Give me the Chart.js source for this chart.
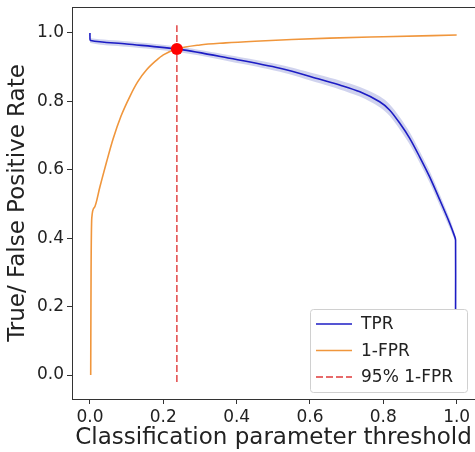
<!DOCTYPE html>
<html lang="en">
<head>
  <meta charset="UTF-8">
  <title>TPR / 1-FPR vs threshold</title>
  <script src="https://cdn.jsdelivr.net/npm/chart.js"></script>
  <style>
    body { margin: 0; background: #fff; }
    .wrap { width: 475px; height: 452px; }
  </style>
</head>
<body>
  <div class="wrap"><canvas id="rateChart"></canvas></div>

  <script>
    // TPR curve (threshold -> rate)
    const tprX  = [0, 0, 0.002, 0.1, 0.245, 0.381, 0.518, 0.627, 0.681, 0.736, 0.79, 0.817, 0.845, 0.872, 0.899, 0.926, 0.954, 0.981, 0.995, 0.997, 0.997];
    const tprY  = [1.0, 0.99, 0.978, 0.968, 0.952, 0.926, 0.897, 0.865, 0.848, 0.828, 0.799, 0.775, 0.736, 0.692, 0.638, 0.58, 0.512, 0.444, 0.404, 0.395, 0.19];
    // shaded band around TPR
    const tprHi = [1.0, 0.99, 0.985, 0.976, 0.96, 0.935, 0.907, 0.877, 0.861, 0.842, 0.815, 0.792, 0.754, 0.71, 0.655, 0.597, 0.528, 0.458, 0.414, 0.402, 0.19];
    const tprLo = [1.0, 0.99, 0.971, 0.96, 0.944, 0.917, 0.887, 0.853, 0.835, 0.814, 0.783, 0.758, 0.718, 0.674, 0.621, 0.563, 0.496, 0.43, 0.394, 0.388, 0.19];

    // 1-FPR curve
    const fprX = [0.002, 0.003, 0.005, 0.012, 0.027, 0.045, 0.063, 0.085, 0.109, 0.13, 0.155, 0.18, 0.2, 0.237, 0.3, 0.37, 0.45, 0.55, 0.654, 0.8, 1.0];
    const fprY = [0, 0.3, 0.46, 0.49, 0.55, 0.622, 0.69, 0.758, 0.815, 0.857, 0.893, 0.919, 0.936, 0.953, 0.965, 0.971, 0.976, 0.981, 0.985, 0.989, 0.994];

    // 95% 1-FPR marker
    const cutX = [0.237, 0.237];
    const cutY = [-0.02, 1.023];
    const opX = [0.237];
    const opY = [0.953];

    const xTicks = [0, 0.2, 0.4, 0.6, 0.8, 1.0];
    const yTicks = [0, 0.2, 0.4, 0.6, 0.8, 1.0];

    const pts = (xs, ys) => xs.map((x, i) => ({ x: x, y: ys[i] }));
    const FONT = "'DejaVu Sans', sans-serif";
    Chart.defaults.font.family = FONT;

    // matplotlib-like frame + legend inside the plot
    const framePlugin = {
      id: 'frame',
      afterDraw(chart) {
        const { ctx, chartArea: a } = chart;
        ctx.save();
        ctx.strokeStyle = '#333';
        ctx.lineWidth = 1;
        ctx.strokeRect(a.left + 0.5, a.top + 0.5, a.right - a.left, a.bottom - a.top);

        // legend box
        const bx = 310, by = 309, bw = 157, bh = 83;
        ctx.fillStyle = 'rgba(255,255,255,0.85)';
        ctx.strokeStyle = '#d0d0d0';
        ctx.beginPath();
        ctx.roundRect(bx + 0.5, by + 0.5, bw, bh, 3);
        ctx.fill();
        ctx.stroke();

        const items = chart.data.datasets
          .filter(d => d.legendRank !== undefined)
          .sort((p, q) => p.legendRank - q.legendRank);
        ctx.font = '17px ' + FONT;
        ctx.textBaseline = 'middle';
        items.forEach((d, i) => {
          const y = by + 15 + i * 26.5;
          ctx.strokeStyle = d.borderColor;
          ctx.lineWidth = 1.5;
          ctx.setLineDash(d.borderDash || []);
          ctx.beginPath();
          ctx.moveTo(bx + 6, y);
          ctx.lineTo(bx + 42, y);
          ctx.stroke();
          ctx.setLineDash([]);
          ctx.fillStyle = '#222';
          ctx.fillText(d.label, bx + 51, y + 1);
        });
        ctx.restore();
      }
    };

    new Chart(document.getElementById('rateChart'), {
      type: 'scatter',
      data: {
        datasets: [
          {
            label: 'operating point',
            data: pts(opX, opY),
            pointRadius: 6,
            pointBackgroundColor: '#ff0000',
            pointBorderWidth: 0,
            order: 0
          },
          {
            label: '95% 1-FPR',
            legendRank: 2,
            data: pts(cutX, cutY),
            showLine: true,
            borderColor: '#e03a3a',
            borderWidth: 1.4,
            borderDash: [7, 3],
            pointRadius: 0,
            order: 1
          },
          {
            label: 'TPR',
            legendRank: 0,
            data: pts(tprX, tprY),
            showLine: true,
            borderColor: '#1c1cc4',
            borderWidth: 1.6,
            tension: 0.3,
            pointRadius: 0,
            order: 2
          },
          {
            label: '1-FPR',
            legendRank: 1,
            data: pts(fprX, fprY),
            showLine: true,
            borderColor: '#f0963c',
            borderWidth: 1.6,
            cubicInterpolationMode: 'monotone',
            pointRadius: 0,
            order: 3
          },
          {
            label: 'band hi',
            data: pts(tprX, tprHi),
            showLine: true,
            borderWidth: 0,
            borderColor: 'rgba(0,0,0,0)',
            backgroundColor: 'rgba(120,130,205,0.35)',
            fill: '+1',
            tension: 0.3,
            pointRadius: 0,
            order: 4
          },
          {
            label: 'band lo',
            data: pts(tprX, tprLo),
            showLine: true,
            borderWidth: 0,
            borderColor: 'rgba(0,0,0,0)',
            tension: 0.3,
            pointRadius: 0,
            order: 5
          }
        ]
      },
      options: {
        responsive: true,
        maintainAspectRatio: false,
        animation: false,
        layout: { autoPadding: false, padding: { top: 7, right: 0, left: 0, bottom: 0 } },
        plugins: {
          legend: { display: false },
          tooltip: { enabled: false }
        },
        scales: {
          x: {
            type: 'linear',
            min: -0.049,
            max: 1.05,
            afterBuildTicks: s => { s.ticks = xTicks.map(v => ({ value: v })); },
            afterFit: s => { s.height = 53; s.paddingLeft = 0; s.paddingRight = 0; },
            ticks: { callback: v => v.toFixed(1), font: { size: 17 }, color: '#222', padding: 3, maxRotation: 0, autoSkip: false },
            grid: { drawOnChartArea: false, tickLength: 5, color: '#333' },
            border: { color: '#333', width: 1 },
            title: { display: true, text: 'Classification parameter threshold', font: { size: 23 }, color: '#222', padding: 0 }
          },
          y: {
            type: 'linear',
            min: -0.07,
            max: 1.076,
            afterBuildTicks: s => { s.ticks = yTicks.map(v => ({ value: v })); },
            afterFit: s => { s.width = 72; s.paddingTop = 0; s.paddingBottom = 0; },
            ticks: { callback: v => v.toFixed(1), font: { size: 17 }, color: '#222', padding: 3, autoSkip: false },
            grid: { drawOnChartArea: false, tickLength: 5, color: '#333' },
            border: { color: '#333', width: 1 },
            title: { display: true, text: 'True/ False Positive Rate', font: { size: 23 }, color: '#222', padding: { top: 4, bottom: 0 } }
          }
        }
      },
      plugins: [framePlugin]
    });
  </script>
</body>
</html>
